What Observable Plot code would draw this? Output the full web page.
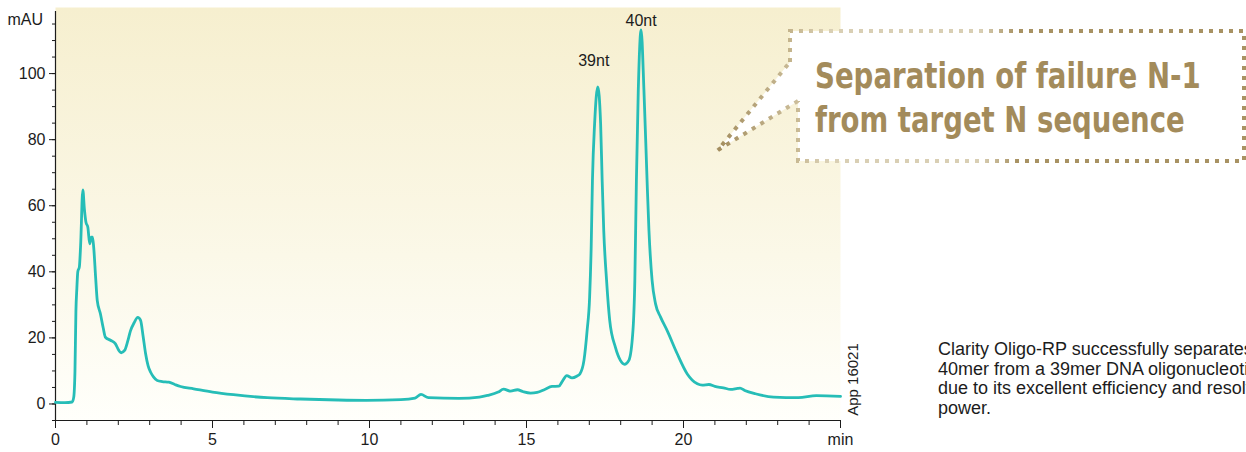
<!DOCTYPE html>
<html><head><meta charset="utf-8">
<script src="https://cdn.jsdelivr.net/npm/d3@7"></script>
<script src="https://cdn.jsdelivr.net/npm/@observablehq/plot@0.6"></script>
<style>
html,body{margin:0;padding:0;background:#fff;}
#chart{width:1246px;height:452px;overflow:hidden;position:relative;}
</style></head><body>
<svg width="0" height="0" style="position:absolute">
<defs>
<linearGradient id="bgGrad" x1="0" y1="0" x2="0" y2="1">
<stop offset="0" stop-color="#f6efcf"/><stop offset="0.6" stop-color="#fbf8e8"/><stop offset="1" stop-color="#fffffb"/>
</linearGradient>
<linearGradient id="dotGrad" gradientUnits="userSpaceOnUse" x1="790" y1="0" x2="1244" y2="0">
<stop offset="0" stop-color="#c4b48c"/><stop offset="0.08" stop-color="#d9cfb4"/><stop offset="0.42" stop-color="#d9cfb4"/><stop offset="0.5" stop-color="#a89263"/><stop offset="1" stop-color="#a89263"/>
</linearGradient>
<linearGradient id="ptrGrad" gradientUnits="userSpaceOnUse" x1="718" y1="0" x2="800" y2="0">
<stop offset="0" stop-color="#a38d5e"/><stop offset="1" stop-color="#cdbf9c"/>
</linearGradient>
</defs></svg>
<div id="chart"></div>
<script>
// Retention time (min) and absorbance (mAU)
const times = [0, 0.3, 0.53, 0.58, 0.62, 0.65, 0.68, 0.71, 0.76, 0.80, 0.87, 0.92, 0.97, 1.03, 1.09, 1.14, 1.18, 1.22, 1.28, 1.33, 1.43, 1.52, 1.59, 1.75, 1.91, 2.0, 2.09, 2.2, 2.3, 2.39, 2.5, 2.62, 2.71, 2.79, 2.87, 2.95, 3.03, 3.12, 3.24, 3.4, 3.61, 3.8, 3.98, 4.4, 5.0, 5.67, 6.74, 7.8, 9.0, 9.9, 11.0, 11.45, 11.64, 11.88, 12.85, 13.5, 13.76, 14.1, 14.27, 14.49, 14.71, 14.9, 15.13, 15.34, 15.58, 15.81, 16.03, 16.15, 16.28, 16.45, 16.6, 16.7, 16.83, 16.93, 17.01, 17.06, 17.1, 17.17, 17.27, 17.36, 17.41, 17.46, 17.55, 17.65, 17.83, 17.99, 18.12, 18.26, 18.39, 18.45, 18.5, 18.56, 18.65, 18.74, 18.84, 18.9, 19.0, 19.11, 19.27, 19.48, 19.8, 20.12, 20.44, 20.6, 20.81, 21.0, 21.27, 21.5, 21.72, 21.8, 21.95, 22.29, 22.87, 23.66, 24.23, 25.0];
const absorbance = [0.5, 0.4, 0.6, 2, 10, 28, 35, 40, 41.5, 48, 64.8, 59, 55, 53.5, 48.5, 50.5, 50.5, 47, 38, 31.3, 27.3, 23, 20.2, 19.3, 18.2, 16.5, 15.5, 16.2, 19, 22.2, 24.5, 26.2, 25.3, 20.5, 15.2, 11.5, 9.6, 8.2, 7.1, 6.8, 6.6, 5.9, 5.3, 4.6, 3.6, 2.8, 1.9, 1.5, 1.2, 1.1, 1.3, 1.8, 2.9, 1.9, 1.7, 2.1, 2.6, 3.6, 4.5, 3.9, 4.3, 3.7, 3.3, 3.5, 4.4, 5.3, 5.4, 7, 8.6, 7.9, 8.4, 9.1, 13.2, 22.2, 32.3, 47.5, 67.6, 85, 96, 85, 67.6, 52.5, 37.4, 25.3, 17.2, 13.2, 12, 13.2, 22.2, 37.4, 67.6, 95, 113.2, 95, 67.6, 52.5, 37.4, 30.3, 26.3, 22.2, 15.2, 9.1, 6.1, 5.7, 5.9, 5.3, 4.9, 4.4, 4.7, 4.8, 4.1, 3.1, 2.1, 1.9, 2.5, 2.3];

const peakNames = ["39nt", "40nt"];
const peakTimes = [17.27, 18.65];
const peakHeights = [96, 113.2];

const yTickValues = [0, 20, 40, 60, 80, 100];
const xTickValues = [0, 5, 10, 15, 20, 25];
const xTickLabels = ["0", "5", "10", "15", "20", "min"];
const yUnit = "mAU";

const calloutLines = ["Separation of failure N-1", "from target N sequence"];
const captionLines = ["Clarity Oligo-RP successfully separates a", "40mer from a 39mer DNA oligonucleotide", "due to its excellent efficiency and resolving", "power."];
const appCode = "App 16021";

const trace = times.map((t, i) => ({t, v: absorbance[i]}));
const peaks = peakNames.map((name, i) => ({name, t: peakTimes[i], v: peakHeights[i]}));

const font = "'Liberation Sans', Arial, Helvetica, sans-serif";
const ink = "#1c1c1c";
const blank = () => "";

const plot = Plot.plot({
  width: 1246, height: 452,
  marginLeft: 55, marginRight: 406, marginTop: 7, marginBottom: 32,
  x: {domain: [0, 25], label: null},
  y: {domain: [-5, 120], label: null},
  style: {fontFamily: font, fontSize: "16px", background: "white", color: ink, overflow: "hidden"},
  marks: [
    Plot.frame({fill: "url(#bgGrad)", stroke: "none"}),
    Plot.ruleX([0], {y1: -5, y2: 118.8, stroke: ink, strokeWidth: 1.2}),
    Plot.ruleY([-5], {x1: 0, x2: 25, stroke: ink, strokeWidth: 1.2}),
    Plot.axisY(d3.range(-5, 116, 5), {anchor: "left", tickSize: 3, tickFormat: blank, stroke: ink, label: null}),
    Plot.axisY(yTickValues, {anchor: "left", tickSize: 6, tickPadding: 4, fontSize: 16, stroke: ink, fill: ink, label: null}),
    Plot.axisX(d3.range(0, 26, 1), {anchor: "bottom", tickSize: 5, tickFormat: blank, stroke: ink, label: null}),
    Plot.axisX(xTickValues, {anchor: "bottom", tickSize: 8, tickPadding: 5, fontSize: 16, stroke: ink, fill: ink, label: null,
      tickFormat: d => xTickLabels[xTickValues.indexOf(d)]}),
    Plot.line(trace, {x: "t", y: "v", stroke: "#26bdb7", strokeWidth: 2.8, curve: "monotone-x"}),
    Plot.text(peaks.filter(p => p.name === "39nt"), {x: "t", y: "v", text: "name", dx: -4, dy: -26, fontSize: 16, fill: ink}),
    Plot.text(peaks.filter(p => p.name === "40nt"), {x: "t", y: "v", text: "name", dx: 0, dy: -9.5, fontSize: 16, fill: ink})
  ]
});

document.getElementById("chart").appendChild(plot);

const svg = d3.select(plot);
const g = svg.append("g").attr("text-anchor", "start");

// unit label at the top of the y axis
g.append("text").attr("x", 43).attr("y", 25).attr("text-anchor", "end")
  .attr("fill", ink).style("font-size", "16px").text(yUnit);

// callout box with pointer: white body first, then dotted outline
const calloutShape = "M790,31 H1244 V161 H798 V101 L718,150 L790,62 Z";
g.append("path").attr("d", calloutShape)
  .style("fill", "#ffffff").style("stroke", "none");
g.append("path")
  .attr("d", "M790,62 V31 H1244 V161 H798 V101")
  .style("fill", "none").style("stroke", "url(#dotGrad)")
  .style("stroke-width", "4").style("stroke-dasharray", "4 6");
g.append("path")
  .attr("d", "M798,101 L718,150 L790,62")
  .style("fill", "none").style("stroke", "url(#ptrGrad)")
  .style("stroke-width", "4").style("stroke-dasharray", "4 6");

// headline text, horizontally condensed to the reference width
const calloutWidths = [386, 370];
calloutLines.forEach((s, i) => {
  const y = 88 + i * 44;
  const t = g.append("text").attr("x", 0).attr("y", 0)
    .attr("text-anchor", "start")
    .attr("fill", "#a38b5b")
    .style("font-family", "'Liberation Sans Narrow', 'DejaVu Sans Condensed', 'Roboto', sans-serif")
    .style("font-weight", "700").style("font-size", "35px")
    .text(s);
  const w = t.node().getComputedTextLength() || calloutWidths[i];
  t.attr("transform", `translate(815,${y}) scale(${calloutWidths[i] / w},1)`);
});

// caption at the right (cut by the page edge, as in the reference)
captionLines.forEach((s, i) => {
  g.append("text").attr("x", 938).attr("y", 355 + i * 19.5)
    .attr("text-anchor", "start")
    .attr("fill", ink).style("font-size", "18px").text(s);
});

// rotated application code
g.append("text").attr("transform", "translate(857.5,379.5) rotate(-90)")
  .attr("text-anchor", "middle").attr("fill", ink).style("font-size", "15px").text(appCode);
</script>
</body></html>
